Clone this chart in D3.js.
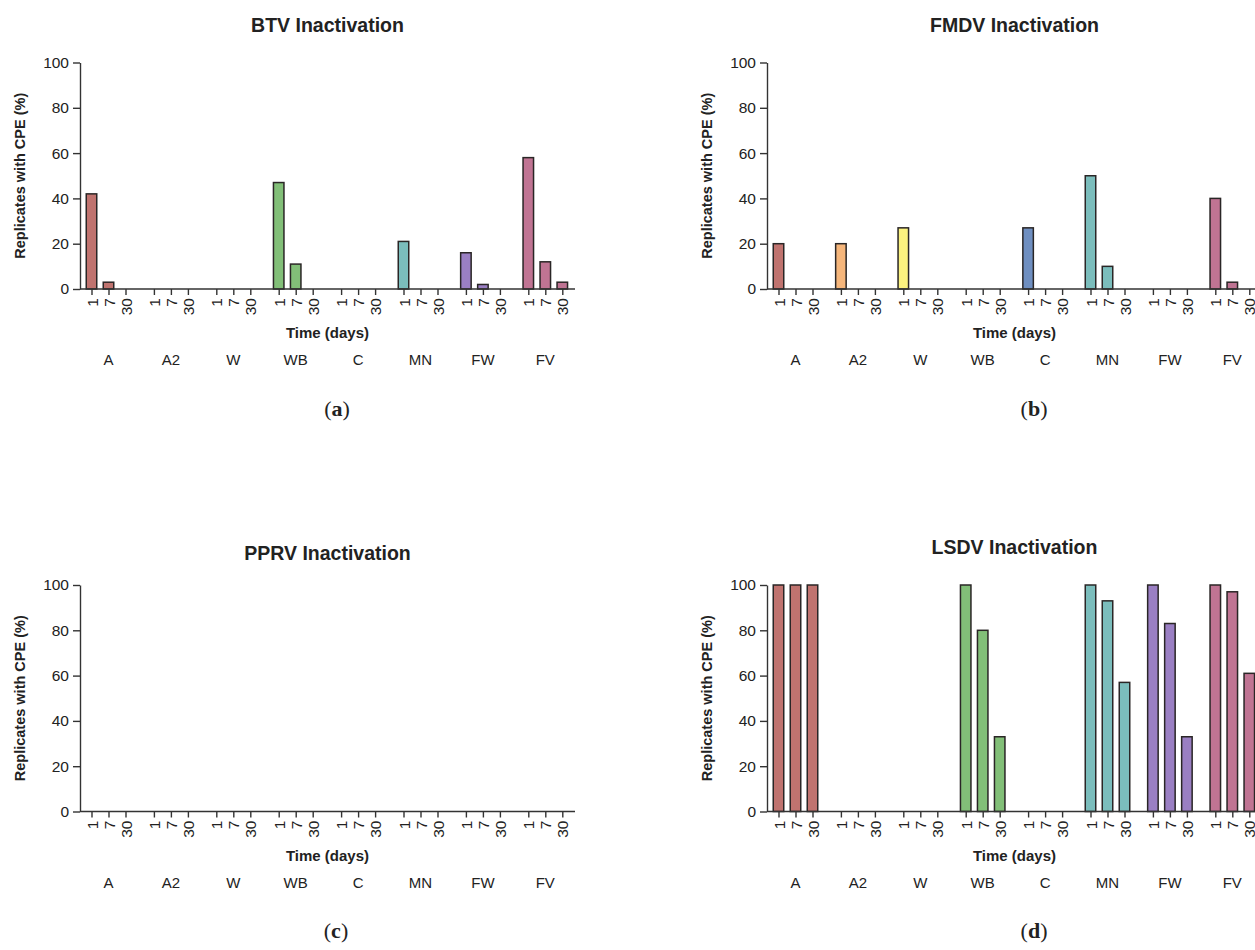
<!DOCTYPE html>
<html>
<head>
<meta charset="utf-8">
<script src="https://cdn.jsdelivr.net/npm/d3@7"></script>
<style>
    body { margin: 0; background: #fff; }
    text { font-family: "Liberation Sans", Arial, sans-serif; fill: #222; }
</style>
</head>
<body>
<svg id="chart" width="1255" height="950"></svg>
<script>
// categories and tick labels
const GROUPS = ["A", "A2", "W", "WB", "C", "MN", "FW", "FV"];
const DAYS = ["1", "7", "30"];
const GROUP_COLORS = ["#c0736f", "#f6b67b", "#fbf27f", "#82bf78", "#6f8fc1", "#7bbdbc", "#9a7fc3", "#c07493"];
const Y_TICKS = [0, 20, 40, 60, 80, 100];

// % replicates with CPE, one row per group, values for day 1, 7, 30
const BTV = [[42, 3, 0], [0, 0, 0], [0, 0, 0], [47, 11, 0], [0, 0, 0], [21, 0, 0], [16, 2, 0], [58, 12, 3]];
const FMDV = [[20, 0, 0], [20, 0, 0], [27, 0, 0], [0, 0, 0], [27, 0, 0], [50, 10, 0], [0, 0, 0], [40, 3, 0]];
const PPRV = [[0, 0, 0], [0, 0, 0], [0, 0, 0], [0, 0, 0], [0, 0, 0], [0, 0, 0], [0, 0, 0], [0, 0, 0]];
const LSDV = [[100, 100, 100], [0, 0, 0], [0, 0, 0], [100, 80, 33], [0, 0, 0], [100, 93, 57], [100, 83, 33], [100, 97, 61]];

const SVG = d3.select("#chart");
SVG.append("rect").attr("width", 1255).attr("height", 950).attr("fill", "#fff");

// layout of each panel
const panels = [
    { title: "BTV Inactivation", values: BTV, letter: "a", left: 80, top: 62.5, titleY: 32, letterX: 337 },
    { title: "FMDV Inactivation", values: FMDV, letter: "b", left: 767, top: 62.5, titleY: 32, letterX: 1034 },
    { title: "PPRV Inactivation", values: PPRV, letter: "c", left: 80, top: 585, titleY: 560, letterX: 336 },
    { title: "LSDV Inactivation", values: LSDV, letter: "d", left: 767, top: 585, titleY: 554, letterX: 1034 }
];

const AXIS_W = 495, PLOT_H = 226.5, BAR_W = 10.5;
const INNER = 17, GROUP_STEP = 62.4;

panels.forEach(p => drawPanel(p));

function drawPanel(p) {
    const g = SVG.append("g");
    const x0 = p.left, y0 = p.top + PLOT_H;
    const cx = x0 + AXIS_W / 2;

    const y = d3.scaleLinear().domain([0, 100]).range([y0, p.top]);

    const firstCenter = x0 + 11.5 + INNER;
    const gx = d3.scalePoint().domain(GROUPS).range([firstCenter, firstCenter + GROUP_STEP * 7]);
    const dx = d3.scalePoint().domain(DAYS).range([-INNER, INNER]);
    const keys = GROUPS.flatMap(gr => DAYS.map(d => gr + "|" + d));
    const x = d3.scaleOrdinal()
        .domain(keys)
        .range(keys.map(k => { const [gr, d] = k.split("|"); return gx(gr) + dx(d); }));

    // title
    g.append("text")
        .attr("x", cx).attr("y", p.titleY)
        .attr("text-anchor", "middle")
        .style("font-size", "19.5px").style("font-weight", "bold")
        .text(p.title);

    // bars
    const bars = [];
    p.values.forEach((row, gi) => row.forEach((v, di) => {
        if (v > 0) bars.push({ key: GROUPS[gi] + "|" + DAYS[di], value: v, color: GROUP_COLORS[gi] });
    }));
    g.selectAll("rect.bar")
        .data(bars)
        .join("rect")
        .attr("class", "bar")
        .attr("x", d => x(d.key) - BAR_W / 2)
        .attr("y", d => y(d.value))
        .attr("width", BAR_W)
        .attr("height", d => y(0) - y(d.value))
        .attr("fill", d => d.color)
        .attr("stroke", "#2a2626")
        .attr("stroke-width", 1.5);

    // y axis
    const yAxis = g.append("g")
        .attr("transform", `translate(${x0},0)`)
        .call(d3.axisLeft(y).tickValues(Y_TICKS).tickSize(7).tickSizeOuter(0).tickPadding(4));
    yAxis.selectAll("text").style("font-size", "15.5px").attr("fill", "#222");
    yAxis.selectAll("line,path").attr("stroke", "#333").attr("stroke-width", 1.4);

    // x axis
    const xAxis = g.append("g")
        .attr("transform", `translate(0,${y0})`)
        .call(d3.axisBottom(x).tickSize(6).tickFormat(k => k.split("|")[1]));
    xAxis.select(".domain").remove();
    xAxis.selectAll("line").attr("stroke", "#333").attr("stroke-width", 1.4);
    xAxis.selectAll("text")
        .attr("transform", "rotate(-90)")
        .attr("x", -9).attr("y", 0).attr("dy", "0.36em")
        .attr("text-anchor", "end")
        .attr("fill", "#222")
        .style("font-size", "15.5px");
    g.append("line")
        .attr("x1", x0).attr("x2", x0 + AXIS_W)
        .attr("y1", y0).attr("y2", y0)
        .attr("stroke", "#333").attr("stroke-width", 1.4);

    // axis titles
    g.append("text")
        .attr("transform", `translate(${x0 - 60},${(y0 + p.top) / 2}) rotate(-90)`)
        .attr("text-anchor", "middle").attr("dy", "0.35em")
        .style("font-size", "14.5px").style("font-weight", "bold")
        .text("Replicates with CPE (%)");
    g.append("text")
        .attr("x", cx).attr("y", y0 + 44).attr("dy", "0.35em")
        .attr("text-anchor", "middle")
        .style("font-size", "15px").style("font-weight", "bold")
        .text("Time (days)");

    // group names under the days
    g.selectAll("text.grp")
        .data(GROUPS)
        .join("text")
        .attr("class", "grp")
        .attr("x", d => gx(d)).attr("y", y0 + 71).attr("dy", "0.35em")
        .attr("text-anchor", "middle")
        .style("font-size", "15px")
        .text(d => d);

    // panel letter
    const lab = g.append("text")
        .attr("x", p.letterX).attr("y", y0 + 119).attr("dy", "0.35em")
        .attr("text-anchor", "middle")
        .style("font-family", "'Liberation Serif', 'DejaVu Serif', serif")
        .style("font-size", "22px");
    lab.append("tspan").text("(");
    lab.append("tspan").style("font-weight", "bold").text(p.letter);
    lab.append("tspan").text(")");
}
</script>
</body>
</html>
